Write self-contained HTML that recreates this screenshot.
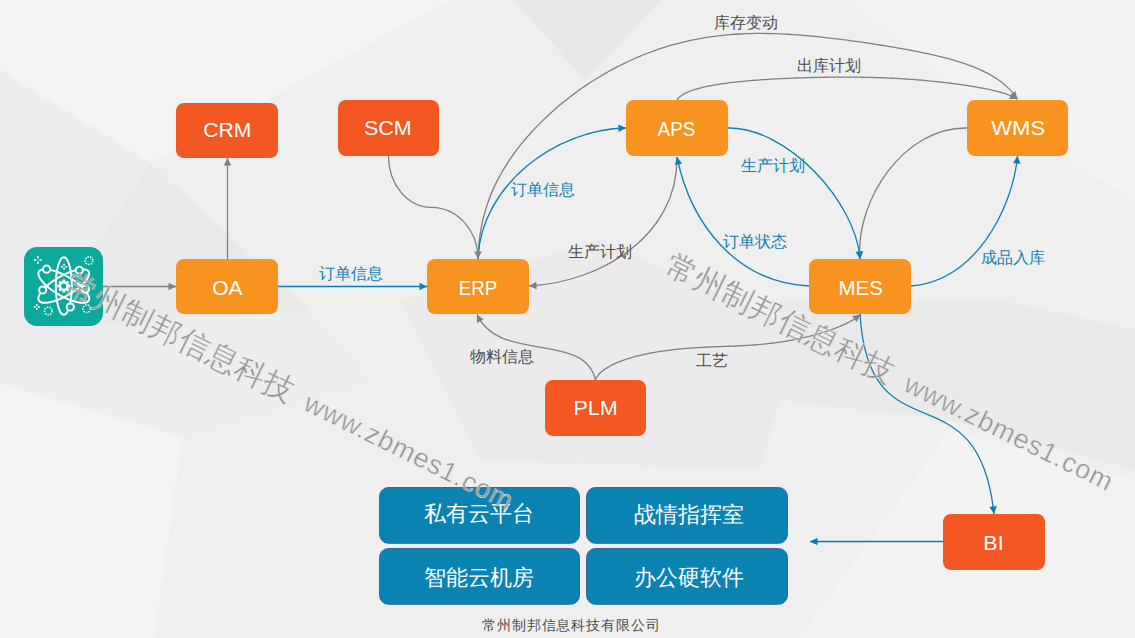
<!DOCTYPE html>
<html><head><meta charset="utf-8"><style>
html,body{margin:0;padding:0;width:1135px;height:638px;overflow:hidden;background:#efefef}
svg{display:block;font-family:"Liberation Sans",sans-serif}
.wm{fill:#959595;stroke:#f2f2f2;stroke-width:0.35px}
</style></head><body>
<svg width="1135" height="638" viewBox="0 0 1135 638">
<rect width="1135" height="638" fill="#efefef"/>
<g class="bg">
<polygon points="0,0 450,0 150,163 0,70" fill="#f3f3f3"/>
<polygon points="0,70 150,163 40,330 0,330" fill="#ededed"/>
<polygon points="150,163 40,330 310,310" fill="#eaeaea"/>
<polygon points="0,330 40,330 310,310 370,380 182,437 0,384" fill="#eeeeee"/>
<polygon points="514,0 661,0 585,80" fill="#e8e8e8"/>
<polygon points="850,0 1135,0 1135,200 1000,120" fill="#f2f2f2"/>
<polygon points="400,300 600,240 800,330 760,470 480,460" fill="#ebebeb"/>
<polygon points="780,300 1000,300 1135,330 1135,470 950,420 780,400" fill="#eaeaea"/>
<polygon points="0,384 182,437 154,638 0,638" fill="#f3f3f3"/>
<polygon points="950,430 1135,480 1135,638 800,638" fill="#f2f2f2"/>
</g>
<g class="ln"><path d="M478.00,259.00 L478.18,254.35 L478.46,249.78 L478.82,245.31 L479.26,240.92 L479.80,236.60 L480.43,232.36 L481.14,228.18 L481.95,224.07 L482.84,220.01 L483.82,216.02 L484.89,212.07 L486.05,208.18 L487.29,204.34 L488.62,200.54 L490.04,196.78 L491.54,193.06 L493.12,189.38 L494.79,185.74 L496.54,182.14 L498.37,178.57 L500.28,175.04 L502.27,171.53 L504.33,168.07 L506.47,164.63 L508.68,161.22 L510.96,157.85 L513.32,154.51 L515.74,151.20 L518.23,147.92 L520.79,144.67 L523.41,141.45 L526.09,138.27 L528.83,135.12 L531.64,132.00 L534.50,128.92 L537.42,125.87 L540.39,122.86 L543.41,119.88 L546.48,116.94 L549.61,114.04 L552.78,111.18 L555.99,108.36 L559.25,105.58 L562.56,102.84 L565.90,100.14 L569.28,97.49 L572.70,94.88 L576.16,92.32 L579.65,89.80 L583.17,87.33 L586.73,84.91 L590.32,82.54 L593.93,80.22 L597.57,77.96 L601.24,75.74 L604.93,73.58 L608.65,71.47 L612.39,69.42 L616.15,67.42 L619.93,65.47 L623.72,63.59 L627.54,61.76 L631.37,59.99 L635.22,58.27 L639.09,56.62 L642.97,55.02 L646.86,53.48 L650.76,52.00 L654.68,50.58 L658.60,49.22 L662.54,47.92 L666.49,46.67 L670.45,45.49 L674.41,44.37 L678.39,43.30 L682.37,42.29 L686.36,41.34 L690.36,40.45 L694.36,39.62 L698.37,38.84 L702.39,38.12 L706.41,37.45 L710.44,36.84 L714.48,36.28 L718.52,35.78 L722.57,35.32 L726.62,34.92 L730.68,34.57 L734.74,34.27 L738.82,34.01 L742.89,33.80 L746.98,33.64 L751.07,33.53 L755.16,33.45 L759.27,33.42 L763.38,33.43 L767.49,33.48 L771.62,33.57 L775.75,33.69 L779.89,33.85 L784.03,34.04 L788.19,34.27 L792.35,34.53 L796.52,34.82 L800.70,35.13 L804.88,35.48 L809.08,35.85 L813.28,36.25 L817.49,36.67 L821.71,37.11 L825.94,37.58 L830.18,38.06 L834.42,38.57 L838.67,39.10 L842.93,39.64 L847.20,40.20 L851.47,40.77 L855.75,41.37 L860.04,41.97 L864.33,42.60 L868.62,43.23 L872.92,43.89 L877.23,44.55 L881.53,45.24 L885.84,45.93 L890.14,46.65 L894.44,47.37 L898.74,48.12 L903.04,48.89 L907.33,49.67 L911.61,50.47 L915.88,51.30 L920.14,52.15 L924.38,53.03 L928.61,53.93 L932.82,54.87 L937.00,55.84 L941.16,56.85 L945.29,57.90 L949.39,58.99 L953.45,60.14 L957.48,61.33 L961.46,62.58 L965.40,63.89 L969.28,65.28 L973.10,66.73 L976.87,68.26 L980.57,69.89 L984.19,71.60 L987.74,73.41 L991.21,75.33 L994.58,77.37 L997.86,79.53 L1001.04,81.83 L1004.10,84.27 L1007.05,86.87 L1009.87,89.62 L1012.56,92.56 L1015.11,95.68 L1017.50,99.00" fill="none" stroke="#808080" stroke-width="1.3"/><path d="M677.00,100.00 L677.70,98.98 L678.55,98.00 L679.52,97.06 L680.62,96.16 L681.84,95.29 L683.17,94.45 L684.61,93.65 L686.15,92.87 L687.78,92.13 L689.50,91.42 L691.30,90.74 L693.18,90.09 L695.14,89.46 L697.15,88.86 L699.23,88.29 L701.37,87.74 L703.56,87.21 L705.80,86.70 L708.08,86.22 L710.40,85.76 L712.76,85.31 L715.15,84.89 L717.57,84.49 L720.01,84.10 L722.48,83.73 L724.97,83.38 L727.47,83.04 L729.98,82.72 L732.51,82.42 L735.04,82.13 L737.58,81.85 L740.13,81.58 L742.67,81.33 L745.21,81.09 L747.75,80.86 L750.29,80.64 L752.81,80.43 L755.33,80.23 L757.84,80.04 L760.34,79.86 L762.83,79.69 L765.31,79.53 L767.77,79.37 L770.21,79.22 L772.64,79.08 L775.05,78.95 L777.45,78.82 L779.83,78.70 L782.19,78.59 L784.53,78.48 L786.85,78.38 L789.15,78.28 L791.43,78.19 L793.70,78.10 L795.94,78.02 L798.16,77.94 L800.37,77.86 L802.56,77.79 L804.72,77.73 L806.87,77.66 L809.00,77.61 L811.12,77.55 L813.21,77.50 L815.29,77.45 L817.36,77.40 L819.41,77.36 L821.44,77.32 L823.46,77.29 L825.47,77.25 L827.46,77.23 L829.45,77.20 L831.42,77.18 L833.38,77.15 L835.34,77.14 L837.28,77.12 L839.22,77.11 L841.16,77.10 L843.09,77.10 L845.01,77.10 L846.93,77.10 L848.85,77.10 L850.77,77.11 L852.69,77.12 L854.61,77.13 L856.53,77.15 L858.45,77.18 L860.38,77.20 L862.32,77.23 L864.26,77.26 L866.20,77.30 L868.16,77.34 L870.12,77.39 L872.09,77.44 L874.08,77.50 L876.07,77.56 L878.08,77.62 L880.10,77.69 L882.13,77.77 L884.18,77.85 L886.24,77.94 L888.32,78.03 L890.41,78.13 L892.52,78.23 L894.65,78.34 L896.79,78.46 L898.96,78.58 L901.14,78.71 L903.34,78.85 L905.55,78.99 L907.79,79.14 L910.04,79.30 L912.32,79.46 L914.61,79.64 L916.92,79.82 L919.25,80.00 L921.59,80.20 L923.95,80.41 L926.33,80.62 L928.72,80.84 L931.13,81.08 L933.56,81.32 L935.99,81.57 L938.44,81.82 L940.90,82.09 L943.37,82.37 L945.85,82.66 L948.34,82.96 L950.83,83.26 L953.32,83.58 L955.82,83.91 L958.32,84.25 L960.82,84.60 L963.31,84.96 L965.79,85.33 L968.27,85.71 L970.74,86.10 L973.19,86.51 L975.63,86.92 L978.04,87.35 L980.43,87.79 L982.80,88.24 L985.14,88.70 L987.44,89.17 L989.71,89.66 L991.93,90.15 L994.12,90.66 L996.25,91.18 L998.33,91.71 L1000.35,92.25 L1002.31,92.81 L1004.20,93.37 L1006.02,93.95 L1007.76,94.54 L1009.42,95.14 L1010.99,95.76 L1012.46,96.38 L1013.84,97.02 L1015.11,97.67 L1016.26,98.33 L1017.30,99.00" fill="none" stroke="#808080" stroke-width="1.3"/><path d="M388.5,156 C388.5,184 407.3,207.3 431.2,207.3 C457.2,207.3 478,230.3 478,259" fill="none" stroke="#808080" stroke-width="1.3"/><path d="M677.0,157.0 C677.9,237.0 599.8,282.2 529.0,286.0" fill="none" stroke="#808080" stroke-width="1.3"/><path d="M967.0,128.0 C903.9,126.8 855.2,200.7 860.0,259.0" fill="none" stroke="#808080" stroke-width="1.3"/><path d="M595.5,380.0 C584.4,331.3 498.8,363.2 477.0,314.5" fill="none" stroke="#808080" stroke-width="1.3"/><path d="M595.30,380.00 L595.80,378.85 L596.40,377.73 L597.10,376.63 L597.88,375.56 L598.75,374.52 L599.70,373.50 L600.72,372.51 L601.82,371.54 L602.98,370.60 L604.21,369.68 L605.50,368.78 L606.85,367.91 L608.25,367.07 L609.70,366.24 L611.21,365.44 L612.75,364.66 L614.34,363.91 L615.96,363.18 L617.63,362.46 L619.32,361.77 L621.05,361.11 L622.80,360.46 L624.58,359.83 L626.38,359.22 L628.21,358.64 L630.05,358.07 L631.91,357.52 L633.79,356.99 L635.68,356.48 L637.58,355.99 L639.49,355.51 L641.40,355.05 L643.33,354.61 L645.26,354.19 L647.19,353.78 L649.13,353.39 L651.06,353.01 L653.00,352.65 L654.94,352.31 L656.87,351.97 L658.80,351.66 L660.73,351.35 L662.65,351.06 L664.57,350.79 L666.47,350.52 L668.38,350.27 L670.27,350.03 L672.16,349.80 L674.04,349.59 L675.91,349.38 L677.77,349.18 L679.61,349.00 L681.45,348.82 L683.28,348.65 L685.10,348.50 L686.91,348.35 L688.71,348.21 L690.50,348.07 L692.27,347.94 L694.04,347.83 L695.79,347.71 L697.54,347.61 L699.27,347.50 L701.00,347.41 L702.71,347.32 L704.41,347.23 L706.11,347.15 L707.79,347.07 L709.47,347.00 L711.14,346.93 L712.80,346.86 L714.45,346.80 L716.10,346.73 L717.73,346.67 L719.37,346.61 L720.99,346.55 L722.61,346.49 L724.23,346.43 L725.84,346.37 L727.44,346.31 L729.04,346.25 L730.64,346.19 L732.24,346.13 L733.84,346.06 L735.43,345.99 L737.02,345.92 L738.61,345.85 L740.21,345.77 L741.80,345.69 L743.40,345.61 L744.99,345.52 L746.59,345.43 L748.19,345.33 L749.80,345.22 L751.40,345.11 L753.02,345.00 L754.63,344.88 L756.26,344.75 L757.88,344.61 L759.52,344.47 L761.16,344.32 L762.81,344.17 L764.46,344.00 L766.12,343.83 L767.79,343.65 L769.46,343.45 L771.15,343.25 L772.84,343.04 L774.54,342.83 L776.25,342.60 L777.97,342.36 L779.70,342.11 L781.43,341.85 L783.18,341.58 L784.93,341.29 L786.69,341.00 L788.46,340.69 L790.24,340.38 L792.02,340.05 L793.81,339.71 L795.61,339.35 L797.42,338.99 L799.23,338.61 L801.05,338.22 L802.87,337.81 L804.70,337.40 L806.53,336.96 L808.37,336.52 L810.20,336.06 L812.04,335.59 L813.88,335.10 L815.72,334.60 L817.56,334.09 L819.39,333.56 L821.22,333.01 L823.05,332.46 L824.86,331.88 L826.67,331.30 L828.48,330.69 L830.26,330.08 L832.04,329.44 L833.80,328.80 L835.55,328.14 L837.28,327.46 L838.98,326.77 L840.67,326.06 L842.33,325.34 L843.96,324.60 L845.56,323.85 L847.14,323.08 L848.67,322.30 L850.17,321.51 L851.64,320.69 L853.05,319.87 L854.43,319.03 L855.75,318.17 L857.02,317.30 L858.24,316.41 L859.40,315.51 L860.50,314.60" fill="none" stroke="#808080" stroke-width="1.3"/><path d="M478.0,259.0 C480.6,185.2 555.7,129.2 626.0,128.0" fill="none" stroke="#0b80b0" stroke-width="1.3"/><path d="M728.0,128.0 C787.3,127.1 855.9,201.9 860.0,259.0" fill="none" stroke="#0b80b0" stroke-width="1.3"/><path d="M809.0,286.0 C736.3,282.6 690.6,223.9 677.0,157.0" fill="none" stroke="#0b80b0" stroke-width="1.3"/><path d="M911.0,286.0 C972.5,282.6 1012.3,211.6 1017.5,156.0" fill="none" stroke="#0b80b0" stroke-width="1.3"/><path d="M860.0,314.0 C869.1,462.1 977.9,363.6 994.0,514.0" fill="none" stroke="#0b80b0" stroke-width="1.3"/><line x1="103" y1="286.5" x2="176" y2="286.5" stroke="#808080" stroke-width="1.3"/><line x1="227.5" y1="259" x2="227.5" y2="158" stroke="#808080" stroke-width="1.3"/><line x1="278" y1="286.5" x2="427" y2="286.5" stroke="#0b80b0" stroke-width="1.3"/><line x1="943" y1="541.5" x2="810" y2="541.5" stroke="#0b80b0" stroke-width="1.3"/>
<polygon points="1017.5,99.0 1009.7,95.9 1015.3,90.9" fill="#808080"/><polygon points="1017.3,99.0 1008.9,98.9 1012.4,92.2" fill="#808080"/><polygon points="478.0,259.0 474.2,251.5 481.8,251.5" fill="#808080"/><polygon points="529.0,286.0 536.3,281.8 536.7,289.3" fill="#808080"/><polygon points="860.0,259.0 855.7,251.8 863.2,251.3" fill="#808080"/><polygon points="477.0,314.5 483.6,319.6 476.9,322.9" fill="#808080"/><polygon points="860.5,314.6 856.7,322.1 852.2,316.0" fill="#808080"/><polygon points="626.0,128.0 618.6,132.0 618.4,124.5" fill="#0b80b0"/><polygon points="860.0,259.0 855.6,251.9 863.1,251.2" fill="#0b80b0"/><polygon points="677.0,157.0 682.2,163.6 674.9,165.1" fill="#0b80b0"/><polygon points="1017.5,156.0 1020.5,163.8 1013.0,163.1" fill="#0b80b0"/><polygon points="994.0,514.0 989.4,507.0 996.8,506.1" fill="#0b80b0"/><polygon points="176.0,286.5 168.5,290.2 168.5,282.8" fill="#808080"/><polygon points="227.5,158.0 231.2,165.5 223.8,165.5" fill="#808080"/><polygon points="427.0,286.5 419.5,290.2 419.5,282.8" fill="#0b80b0"/><polygon points="810.0,541.5 817.5,537.8 817.5,545.2" fill="#0b80b0"/></g>
<rect x="176" y="103" width="102" height="55" rx="8" fill="#f35822"/><rect x="338" y="100" width="101" height="56" rx="8" fill="#f35822"/><rect x="626" y="100" width="102" height="56" rx="8" fill="#f7931e"/><rect x="967" y="100" width="101" height="56" rx="8" fill="#f7931e"/><rect x="176" y="259" width="102" height="55" rx="8" fill="#f7931e"/><rect x="427" y="259" width="102" height="55" rx="8" fill="#f7931e"/><rect x="809" y="259" width="102" height="55" rx="8" fill="#f7931e"/><rect x="545" y="380" width="101" height="56" rx="8" fill="#f35822"/><rect x="943" y="514" width="102" height="56" rx="8" fill="#f35822"/><rect x="379.5" y="487.5" width="200" height="55.8" rx="9" fill="#0a83b2" stroke="#2f6f98" stroke-width="1"/><rect x="586.5" y="487.5" width="201" height="55.8" rx="9" fill="#0a83b2" stroke="#2f6f98" stroke-width="1"/><rect x="379.5" y="548.5" width="200" height="55.8" rx="9" fill="#0a83b2" stroke="#2f6f98" stroke-width="1"/><rect x="586.5" y="548.5" width="201" height="55.8" rx="9" fill="#0a83b2" stroke="#2f6f98" stroke-width="1"/>
<text class="tx" transform="translate(319.00,279.00) scale(1.0000,1)" font-size="16" fill="#1380b3">订单信息</text><text class="tx" transform="translate(511.00,195.00) scale(1.0000,1)" font-size="16" fill="#1380b3">订单信息</text><text class="tx" transform="translate(714.00,28.00) scale(1.0000,1)" font-size="16" fill="#4d4d4d">库存变动</text><text class="tx" transform="translate(797.00,71.00) scale(1.0000,1)" font-size="16" fill="#4d4d4d">出库计划</text><text class="tx" transform="translate(568.00,257.00) scale(1.0000,1)" font-size="16" fill="#4d4d4d">生产计划</text><text class="tx" transform="translate(741.00,171.00) scale(1.0000,1)" font-size="16" fill="#1380b3">生产计划</text><text class="tx" transform="translate(723.00,247.00) scale(1.0000,1)" font-size="16" fill="#1380b3">订单状态</text><text class="tx" transform="translate(981.00,263.00) scale(1.0000,1)" font-size="16" fill="#1380b3">成品入库</text><text class="tx" transform="translate(470.00,362.00) scale(1.0000,1)" font-size="16" fill="#4d4d4d">物料信息</text><text class="tx" transform="translate(696.00,366.00) scale(1.0000,1)" font-size="16" fill="#4d4d4d">工艺</text><text class="tx" transform="translate(482.00,630.00) scale(1.0000,1)" font-size="14" fill="#4d4d4d" letter-spacing="0.9">常州制邦信息科技有限公司</text><text class="tx" transform="translate(203.18,137.32) scale(1.0053,1)" font-size="21" fill="#fff">CRM</text><text class="tx" transform="translate(363.95,135.32) scale(1.0238,1)" font-size="21" fill="#fff">SCM</text><text class="tx" transform="translate(657.52,135.72) scale(0.9007,1)" font-size="21" fill="#fff">APS</text><text class="tx" transform="translate(991.27,135.32) scale(1.0493,1)" font-size="21" fill="#fff">WMS</text><text class="tx" transform="translate(212.17,295.02) scale(0.9953,1)" font-size="21" fill="#fff">OA</text><text class="tx" transform="translate(458.86,295.02) scale(0.8911,1)" font-size="21" fill="#fff">ERP</text><text class="tx" transform="translate(838.51,294.52) scale(0.9768,1)" font-size="21" fill="#fff">MES</text><text class="tx" transform="translate(573.41,415.32) scale(1.0270,1)" font-size="21" fill="#fff">PLM</text><text class="tx" transform="translate(983.37,549.82) scale(1.0225,1)" font-size="21" fill="#fff">BI</text><text class="tx" transform="translate(424.00,521.00) scale(1.0000,1)" font-size="22" fill="#fff">私有云平台</text><text class="tx" transform="translate(634.00,522.00) scale(1.0000,1)" font-size="22" fill="#fff">战情指挥室</text><text class="tx" transform="translate(424.00,585.00) scale(1.0000,1)" font-size="22" fill="#fff">智能云机房</text><text class="tx" transform="translate(634.00,585.00) scale(1.0000,1)" font-size="22" fill="#fff">办公硬软件</text>
<g class="ic">
<rect x="24" y="247" width="79" height="79" rx="13" fill="#0aa99b"/>
<g fill="none" stroke="#fff" stroke-width="2">
<ellipse cx="63.8" cy="286" rx="8" ry="28.8"/>
<ellipse cx="63.8" cy="286" rx="10" ry="28.8" transform="rotate(-60 63.8 286)"/>
<ellipse cx="63.8" cy="286" rx="10" ry="28.8" transform="rotate(60 63.8 286)"/>
</g>
<g fill="#0aa99b" stroke="#fff" stroke-width="2">
<circle cx="46.6" cy="269.2" r="3.6"/><circle cx="42.7" cy="290" r="3.6"/><circle cx="70.3" cy="307" r="3.6"/>
<circle cx="79.3" cy="270.3" r="3.6"/><circle cx="85.6" cy="289" r="3.6"/>
</g>
<path d="M68.49,284.58 L70.26,284.64 L70.26,287.36 L68.49,287.42 L68.12,288.31 L69.33,289.61 L67.41,291.53 L66.11,290.32 L65.22,290.69 L65.16,292.46 L62.44,292.46 L62.38,290.69 L61.49,290.32 L60.19,291.53 L58.27,289.61 L59.48,288.31 L59.11,287.42 L57.34,287.36 L57.34,284.64 L59.11,284.58 L59.48,283.69 L58.27,282.39 L60.19,280.47 L61.49,281.68 L62.38,281.31 L62.44,279.54 L65.16,279.54 L65.22,281.31 L66.11,281.68 L67.41,280.47 L69.33,282.39 L68.12,283.69Z" fill="#fff"/><circle cx="63.8" cy="286" r="2.6" fill="#0aa99b"/>
<g fill="none" stroke="#fff" stroke-width="1.7" stroke-dasharray="1.4 1.25">
<circle cx="88.9" cy="260.7" r="3.8"/><circle cx="48.3" cy="311" r="3.8"/><circle cx="86.7" cy="308.7" r="3.8"/>
</g>
<g stroke="#fff" stroke-width="1.5">
<path d="M37.9,255.9v2.5M37.9,261.4v2.5M33.9,259.9h2.5M39.4,259.9h2.5"/>
<path d="M64.1,263.7v2M64.1,267.7v2M61.1,266.7h2M65.1,266.7h2"/>
<path d="M36.8,304v2M36.8,308v2M33.8,307h2M37.8,307h2"/>
</g>
</g>
<g class="wmg">
<text class="wm" transform="translate(62.55,291.49) rotate(26.22)"><tspan font-size="31" letter-spacing="0.5">常州制邦信息科技</tspan><tspan font-size="27" letter-spacing="0.86" dx="14.8">www.zbmes1.com</tspan></text>
<text class="wm" transform="translate(662.55,272.39) rotate(26.22)"><tspan font-size="31" letter-spacing="0.5">常州制邦信息科技</tspan><tspan font-size="27" letter-spacing="0.86" dx="14.8">www.zbmes1.com</tspan></text>
</g>
</svg>
</body></html>
